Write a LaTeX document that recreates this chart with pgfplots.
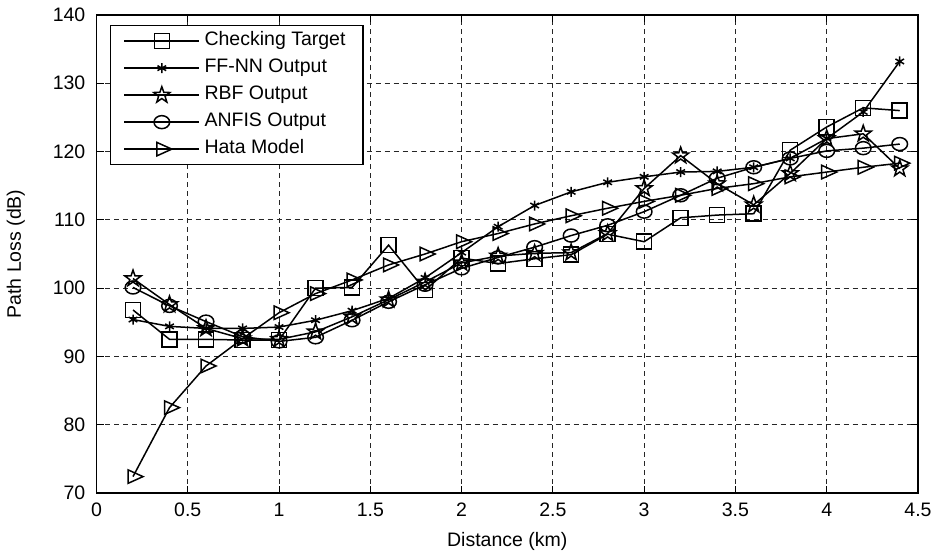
\documentclass[border=0pt]{standalone}
\usepackage{pgfplots}
\pgfplotsset{compat=1.18}
\usepackage{fontspec}
\setmainfont{Liberation Sans}
\pgfdeclareplotmark{pentagram}{%
  \pgfpathmoveto{\pgfpointpolar{90}{\pgfplotmarksize}}%
  \pgfpathlineto{\pgfpointpolar{126}{0.40\pgfplotmarksize}}%
  \pgfpathlineto{\pgfpointpolar{162}{\pgfplotmarksize}}%
  \pgfpathlineto{\pgfpointpolar{198}{0.40\pgfplotmarksize}}%
  \pgfpathlineto{\pgfpointpolar{234}{\pgfplotmarksize}}%
  \pgfpathlineto{\pgfpointpolar{270}{0.40\pgfplotmarksize}}%
  \pgfpathlineto{\pgfpointpolar{306}{\pgfplotmarksize}}%
  \pgfpathlineto{\pgfpointpolar{342}{0.40\pgfplotmarksize}}%
  \pgfpathlineto{\pgfpointpolar{18}{\pgfplotmarksize}}%
  \pgfpathlineto{\pgfpointpolar{54}{0.40\pgfplotmarksize}}%
  \pgfpathclose\pgfusepathqstroke}
\pgfplotstableread{
x target ffnn rbf anfis hata
0.2 96.8 95.4 101.4 100.1 72.4
0.4 92.5 94.4 97.6 97.4 82.5
0.6 92.5 94.1 94.1 95.1 88.6
0.8 92.4 94.1 92.6 92.9 92.6
1.0 92.4 94.3 92.5 92.2 96.4
1.2 100.0 95.3 93.6 92.8 99.2
1.4 100.1 96.7 95.8 95.3 101.2
1.6 106.3 98.5 98.3 98.0 103.4
1.8 99.7 101.5 100.9 100.5 105.0
2.0 104.4 105.2 103.7 102.9 106.8
2.2 103.6 109.0 104.7 104.5 108.0
2.4 104.3 112.1 105.1 106.0 109.4
2.6 104.9 114.1 105.2 107.7 110.6
2.8 107.9 115.5 108.0 109.2 111.7
3.0 106.8 116.3 114.6 111.2 112.7
3.2 110.3 117.0 119.4 113.6 113.6
3.4 110.7 117.1 115.3 116.1 114.6
3.6 110.9 117.7 112.2 117.7 115.3
3.8 120.2 119.0 116.8 119.0 116.3
4.0 123.6 121.9 121.9 120.1 117.0
4.2 126.4 125.8 122.6 120.5 117.7
4.4 126.0 133.2 117.5 121.1 118.3
}\data
\begin{document}
\begin{tikzpicture}
\begin{axis}[
  scale only axis, width=821.5pt, height=478pt,
  xmin=0, xmax=4.5, ymin=70, ymax=140,
  xtick={0,0.5,...,4.5}, ytick={70,80,...,140},
  xticklabels={0,0.5,1,1.5,2,2.5,3,3.5,4,4.5},
  font=\fontsize{19.5}{23}\selectfont,
  /pgf/number format/assume math mode=true,
  axis line style={line width=1.5pt},
  tick style={line width=1pt, black},
  major tick length=7pt,
  tick align=inside, xtick pos=both, ytick pos=both,
  grid=major,
  major grid style={dash pattern=on 5pt off 4pt, line width=0.9pt, black!85},
  yticklabel style={anchor=east, inner sep=0pt, xshift=-11pt},
  xticklabel style={anchor=north, inner sep=0pt, yshift=-10pt},
  xlabel={Distance (km)}, ylabel={Path Loss (dB)},
  xlabel style={at={(axis description cs:0.5,-0.0816)}, anchor=north, inner sep=0pt},
  ylabel style={at={(axis description cs:-0.087,0.5)}, anchor=south, inner sep=0pt},
  every axis plot/.append style={black, line width=1.5pt, mark options={solid, line width=1.5pt}},
  legend cell align=left,
  legend style={at={(0.0164,0.979)}, anchor=north west, draw=black, line width=1.2pt, fill=white,
    inner xsep=13pt, inner ysep=2pt,
    nodes={inner sep=4.5pt, text height=13.5pt, text depth=4.5pt},
    font=\fontsize{19.5}{23}\selectfont},
  legend image code/.code={\draw[mark repeat=2,mark phase=2] plot coordinates {(0pt,0pt) (37.5pt,0pt) (75pt,0pt)};},
]
\addplot[mark=square, mark size=7.5pt] table[x=x, y=target] {\data};
\addplot[mark=asterisk, mark size=5pt] table[x=x, y=ffnn] {\data};
\addplot[mark=pentagram, mark size=8.5pt] table[x=x, y=rbf] {\data};
\addplot[mark=o, mark size=6.5pt, mark options={xscale=1.2}] table[x=x, y=anfis] {\data};
\addplot[mark=triangle, mark size=10pt, mark options={rotate=-90, xscale=0.78}] table[x=x, y=hata] {\data};
\legend{Checking Target, FF-NN Output, RBF Output, ANFIS Output, Hata Model}
\end{axis}
\path (current axis.south west) ++(-96.5pt,-60pt) coordinate (bl);
\path (current axis.north east) ++(19pt,15pt) coordinate (tr);
\path (bl) rectangle (tr);
\end{tikzpicture}
\end{document}
